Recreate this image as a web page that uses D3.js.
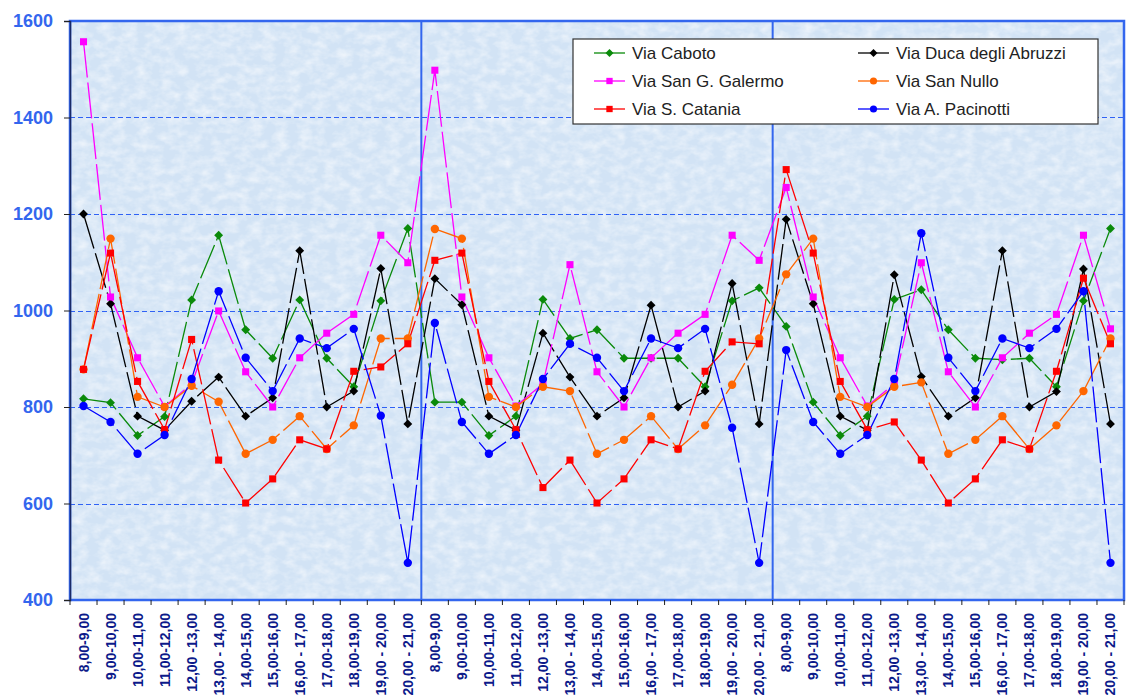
<!DOCTYPE html>
<html>
<head>
<meta charset="utf-8">
<script src="https://cdn.jsdelivr.net/npm/d3@7"></script>
<style>
  body { margin: 0; background: #fff; }
  svg { display: block; font-family: "Liberation Sans", Arial, sans-serif; }
</style>
</head>
<body>
<div id="chart"></div>
<script>
// time slots, repeated for the three survey days
const slots = ["8,00-9,00", "9,00-10,00", "10,00-11,00", "11,00-12,00", "12,00 -13,00",
  "13,00 - 14,00", "14,00-15,00", "15,00-16,00", "16,00 - 17,00", "17,00-18,00",
  "18,00-19,00", "19,00 - 20,00", "20,00 - 21,00"];
const categories = [...slots, ...slots, ...slots];

const yTicks = [400, 600, 800, 1000, 1200, 1400, 1600];

const caboto = [817, 809, 741, 780, 1022, 1156, 960, 901, 1022, 901, 842, 1020, 1170,
  810, 810, 741, 781, 1023, 942, 960, 901, 901, 901, 842, 1020, 1047,
  967, 810, 741, 781, 1023, 1043, 960, 901, 898, 901, 842, 1020, 1170];
const duca = [1200, 1014, 781, 752, 812, 862, 781, 819, 1124, 800, 833, 1087, 765,
  1066, 1012, 781, 752, 953, 862, 781, 819, 1011, 800, 833, 1056, 765,
  1189, 1014, 781, 752, 1074, 863, 781, 819, 1124, 800, 832, 1086, 765];
const galermo = [1557, 1028, 902, 801, 848, 999, 873, 800, 902, 953, 992, 1156, 1099,
  1498, 1028, 902, 802, 848, 1095, 873, 800, 902, 953, 992, 1156, 1104,
  1255, 1028, 902, 802, 848, 1099, 873, 800, 902, 953, 992, 1156, 962];
const nullo = [878, 1149, 821, 800, 844, 811, 703, 732, 781, 713, 762, 942, 942,
  1169, 1149, 821, 800, 842, 833, 703, 732, 781, 713, 762, 846, 942,
  1075, 1149, 821, 800, 842, 851, 703, 732, 781, 713, 762, 833, 942];
const catania = [878, 1119, 853, 753, 940, 690, 601, 651, 732, 713, 874, 883, 931,
  1104, 1119, 853, 753, 633, 690, 601, 651, 732, 713, 874, 935, 931,
  1292, 1119, 853, 753, 769, 690, 601, 651, 732, 713, 874, 1067, 931];
const pacinotti = [802, 769, 703, 742, 858, 1040, 902, 833, 942, 922, 962, 782, 477,
  974, 769, 703, 742, 858, 931, 902, 833, 942, 922, 962, 757, 477,
  918, 769, 703, 742, 858, 1160, 902, 833, 942, 922, 962, 1040, 477];

const series = [
  { name: "Via Caboto", values: caboto, color: "#0a8a0a", shape: d3.symbolDiamond2 },
  { name: "Via Duca degli Abruzzi", values: duca, color: "#000000", shape: d3.symbolDiamond2 },
  { name: "Via San G. Galermo", values: galermo, color: "#ff00ff", shape: d3.symbolSquare },
  { name: "Via San Nullo", values: nullo, color: "#ff6600", shape: d3.symbolCircle },
  { name: "Via S. Catania", values: catania, color: "#ff0000", shape: d3.symbolSquare },
  { name: "Via A. Pacinotti", values: pacinotti, color: "#0000ff", shape: d3.symbolCircle }
];

const W = 1129, H = 697;
const margin = { left: 70, right: 5, top: 21, bottom: 97 };

const svg = d3.select("#chart").append("svg")
  .attr("width", W)
  .attr("height", H);

const x = d3.scalePoint()
  .domain(d3.range(categories.length))
  .range([margin.left, W - margin.right])
  .padding(0.5);
const step = x.step();

const y = d3.scaleLinear()
  .domain([400, 1600])
  .range([H - margin.bottom, margin.top]);

// textured light blue background
const defs = svg.append("defs");
const f = defs.append("filter").attr("id", "tex")
  .attr("x", 0).attr("y", 0).attr("width", 1).attr("height", 1);
f.append("feTurbulence").attr("type", "fractalNoise")
  .attr("baseFrequency", "0.08 0.12").attr("numOctaves", 3).attr("seed", 4).attr("result", "n");
f.append("feColorMatrix").attr("in", "n").attr("type", "matrix")
  .attr("values", "0 0 0 0 1  0 0 0 0 1  0 0 0 0 1  0 0 0 -1.8 1.15");

const x0 = margin.left, x1 = W - margin.right;
const y0 = margin.top, y1 = H - margin.bottom;

svg.append("rect")
  .attr("x", x0).attr("y", y0)
  .attr("width", x1 - x0).attr("height", y1 - y0)
  .attr("fill", "#d2e3f5");
svg.append("rect")
  .attr("x", x0).attr("y", y0)
  .attr("width", x1 - x0).attr("height", y1 - y0)
  .attr("filter", "url(#tex)")
  .attr("opacity", 0.6);

// gridlines, snapped to the pixel grid so the dashes stay crisp blue
const snap = v => Math.round(v) + 0.5;
svg.append("g")
  .attr("shape-rendering", "crispEdges")
  .selectAll("line")
  .data(yTicks.slice(1, -1))
  .join("line")
    .attr("x1", x0).attr("x2", x1)
    .attr("y1", d => snap(y(d))).attr("y2", d => snap(y(d)))
    .attr("stroke", "#2f62f5")
    .attr("stroke-width", 1)
    .attr("stroke-dasharray", "5,3");

// day separators
svg.append("g")
  .selectAll("line")
  .data([13, 26])
  .join("line")
    .attr("x1", d => x(d) - step / 2).attr("x2", d => x(d) - step / 2)
    .attr("y1", y0).attr("y2", y1)
    .attr("stroke", "#3366ee")
    .attr("stroke-width", 2);

// plot border
svg.append("rect")
  .attr("x", x0).attr("y", y0)
  .attr("width", x1 - x0).attr("height", y1 - y0)
  .attr("fill", "none")
  .attr("stroke", "#3366ee")
  .attr("stroke-width", 2.5);

// y axis
const yAxis = svg.append("g")
  .attr("transform", "translate(" + x0 + ",0)")
  .call(d3.axisLeft(y).tickValues(yTicks).tickFormat(d3.format("d")).tickSize(6).tickPadding(11));
yAxis.select(".domain").attr("stroke", "#1a2a66").attr("stroke-width", 1.5);
yAxis.selectAll(".tick line").attr("stroke", "#222");
yAxis.selectAll("text")
  .attr("fill", "#3366ee")
  .attr("font-size", 18)
  .attr("font-weight", "bold")
  .attr("font-family", "Liberation Sans, Arial, sans-serif");

// x axis ticks and labels
svg.append("g")
  .selectAll("line")
  .data(d3.range(categories.length + 1))
  .join("line")
    .attr("x1", d => x0 + d * step).attr("x2", d => x0 + d * step)
    .attr("y1", y1).attr("y2", y1 + 5)
    .attr("stroke", "#222");
svg.append("g")
  .selectAll("text")
  .data(categories)
  .join("text")
    .attr("transform", (d, i) => "translate(" + (x(i) + 5) + "," + (y1 + 13) + ") rotate(-90)")
    .attr("text-anchor", "end")
    .attr("font-size", 14)
    .attr("font-weight", "bold")
    .attr("fill", "#0c1a8a")
    .text(d => d);

// series lines and markers
const line = d3.line()
  .x((d, i) => x(i))
  .y(d => y(d));

series.forEach(s => {
  svg.append("path")
    .datum(s.values)
    .attr("fill", "none")
    .attr("stroke", s.color)
    .attr("stroke-width", 1.3)
    .attr("stroke-dasharray", "36,5")
    .attr("d", line);
});

series.forEach(s => {
  svg.append("g")
    .selectAll("path")
    .data(s.values)
    .join("path")
      .attr("transform", (d, i) => "translate(" + x(i) + "," + y(d) + ")")
      .attr("d", d3.symbol().type(s.shape).size(s.shape === d3.symbolCircle ? 55 : 50))
      .attr("fill", s.color);
});

// legend
const leg = svg.append("g").attr("transform", "translate(573,39)");
leg.append("rect")
  .attr("width", 525).attr("height", 85)
  .attr("fill", "#fff")
  .attr("stroke", "#333")
  .attr("stroke-width", 1.2);

const legItem = leg.selectAll("g.item")
  .data(series)
  .join("g")
    .attr("class", "item")
    .attr("transform", (d, i) => "translate(" + (i % 2 === 0 ? 21 : 285) + "," + (14 + Math.floor(i / 2) * 28) + ")");
legItem.append("line")
  .attr("x1", 0).attr("x2", 31)
  .attr("stroke", d => d.color)
  .attr("stroke-width", 1.3);
legItem.append("path")
  .attr("transform", "translate(15.5,0)")
  .attr("d", d => d3.symbol().type(d.shape).size(40)())
  .attr("fill", d => d.color);
legItem.append("text")
  .attr("x", 38)
  .attr("dy", "0.35em")
  .attr("font-size", 17)
  .attr("fill", "#222")
  .text(d => d.name);
</script>
</body>
</html>
